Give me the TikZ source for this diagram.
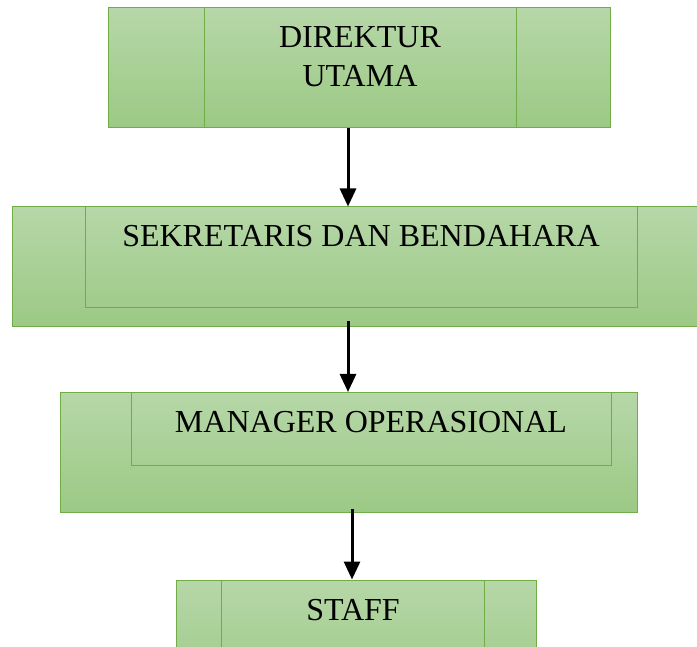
\documentclass[tikz,border=0pt]{standalone}
\usepackage{fontspec}
\setmainfont{Liberation Serif}
\usetikzlibrary{positioning,calc,arrows.meta}

\definecolor{boxtop}{HTML}{B6D7A8}
\definecolor{boxbottom}{HTML}{9CC985}
\definecolor{boxline}{HTML}{70AD47}

\begin{document}
\begin{tikzpicture}[
    x=1pt, y=-1pt,
    unitbox/.style={draw=boxline, line width=1pt, top color=boxtop, bottom color=boxbottom, inner sep=0pt},
    innerline/.style={draw=boxline, line width=1pt},
    title/.style={font=\fontsize{32}{39}\selectfont, align=center, text=black, inner sep=0pt},
    link/.style={-{Triangle[length=18pt,width=16pt]}, line width=3pt}
]
\useasboundingbox (0,0) rectangle (697,647);

% Define the boxes
\node[unitbox, minimum width=502pt, minimum height=120pt] (dir) at (359,68) {};
\node[unitbox, minimum width=688pt, minimum height=120pt] (sek) at (356,267) {};
\node[unitbox, minimum width=577pt, minimum height=120pt] (man) at (348.5,452.5) {};
\node[unitbox, minimum width=360pt, minimum height=120pt] (staff) at (356,640) {};

% Inner frames
\draw[innerline] (204,8) -- (204,128);
\draw[innerline] (516,8) -- (516,128);
\draw[innerline] (85,207) -- (85,308) -- (637,308) -- (637,207);
\draw[innerline] (131,393) -- (131,465) -- (611,465) -- (611,393);
\draw[innerline] (221,580) -- (221,700);
\draw[innerline] (484,580) -- (484,700);

% Add the texts
\node[title, anchor=base] (dirtext) at (360,87) {DIREKTUR\\UTAMA};
\node[title, anchor=base] (sektext) at (361,247) {SEKRETARIS DAN BENDAHARA};
\node[title, anchor=base] (mantext) at (371,432) {MANAGER OPERASIONAL};
\node[title, anchor=base] (stafftext) at (353,620) {STAFF};

% Draw the arrows
\draw[link] ([xshift=-11pt]dir.south) -- ([xshift=-8pt]sek.north);
\draw[link] ([xshift=-8pt, yshift=6pt]sek.south) -- ([xshift=-0.5pt]man.north);
\draw[link] ([xshift=3.5pt, yshift=4pt]man.south) -- ([xshift=-4pt]staff.north);

\end{tikzpicture}
\end{document}
